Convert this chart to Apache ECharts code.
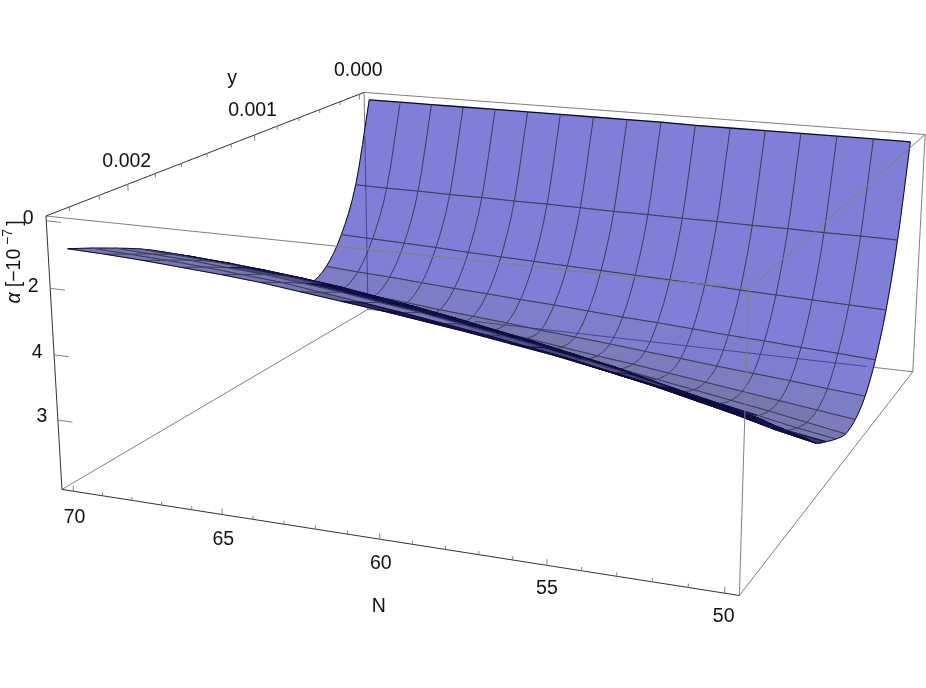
<!DOCTYPE html>
<html><head><meta charset="utf-8">
<style>html,body{margin:0;padding:0;background:#fff}#c{width:926px;height:688px}</style>
<script src="https://cdn.jsdelivr.net/npm/echarts@6/dist/echarts.min.js"></script>
</head><body><div id="c"></div>
<script>
// ---- data ----
const nValues = [70,68.75,67.5,66.25,65,63.75,62.5,61.25,60,58.75,57.5,56.25,55,53.75,52.5,51.25,50];
const yValues = [0,0.00015625,0.0003125,0.00046875,0.000625,0.00078125,0.0009375,0.00109375,0.00125,0.00140625,0.0015625,0.00171875,0.001875,0.00203125,0.0021875,0.00234375,0.0025];
// depth below the top of the box, in axis tick units; one row per y, one column per N
const alpha00 = [.02,.02,.02,.02,.02,.02,.02,.02,.02,.02,.03,.03,.03,.03,.03,.03,.03];
const alpha01 = [1.48,1.49,1.49,1.50,1.50,1.51,1.51,1.52,1.53,1.53,1.54,1.54,1.55,1.55,1.56,1.56,1.57];
const alpha02 = [2.27,2.29,2.31,2.33,2.36,2.38,2.40,2.42,2.44,2.46,2.48,2.50,2.53,2.55,2.57,2.59,2.61];
const alpha03 = [2.71,2.75,2.78,2.82,2.86,2.89,2.93,2.96,3.00,3.04,3.07,3.11,3.15,3.18,3.22,3.25,3.29];
const alpha04 = [2.86,2.91,2.97,3.02,3.08,3.13,3.18,3.24,3.29,3.34,3.40,3.45,3.51,3.56,3.61,3.67,3.72];
const alpha05 = [2.72,2.79,2.86,2.93,3.00,3.07,3.14,3.21,3.29,3.37,3.44,3.52,3.60,3.68,3.76,3.84,3.92];
const alpha06 = [2.50,2.57,2.65,2.72,2.80,2.89,2.98,3.07,3.16,3.25,3.34,3.44,3.54,3.64,3.74,3.85,3.96];
const alpha07 = [2.27,2.34,2.41,2.49,2.57,2.66,2.75,2.85,2.95,3.05,3.16,3.27,3.38,3.50,3.62,3.74,3.84];
const alpha08 = [2.03,2.09,2.16,2.23,2.31,2.40,2.50,2.60,2.70,2.82,2.93,3.05,3.17,3.30,3.43,3.58,3.68];
const alpha09 = [1.80,1.86,1.92,1.99,2.06,2.15,2.25,2.35,2.46,2.57,2.69,2.81,2.93,3.07,3.21,3.37,3.50];
const alpha10 = [1.57,1.62,1.67,1.73,1.80,1.88,1.97,2.07,2.17,2.28,2.40,2.52,2.64,2.78,2.91,3.07,3.22];
const alpha11 = [1.33,1.37,1.42,1.47,1.53,1.61,1.70,1.80,1.90,2.02,2.13,2.25,2.37,2.52,2.66,2.82,2.98];
const alpha12 = [1.08,1.11,1.15,1.20,1.26,1.33,1.42,1.51,1.61,1.72,1.83,1.95,2.07,2.22,2.36,2.52,2.68];
const alpha13 = [.89,.92,.96,1.00,1.06,1.13,1.21,1.30,1.39,1.50,1.60,1.72,1.83,1.97,2.11,2.26,2.41];
const alpha14 = [.73,.76,.79,.84,.88,.95,1.02,1.11,1.19,1.29,1.39,1.49,1.60,1.72,1.85,1.99,2.13];
const alpha15 = [.58,.61,.64,.68,.73,.78,.86,.94,1.02,1.11,1.20,1.30,1.40,1.52,1.64,1.77,1.90];
const alpha16 = [.44,.46,.49,.53,.57,.62,.69,.76,.83,.91,.99,1.08,1.17,1.28,1.38,1.50,1.62];
const alphaRows = [alpha00,alpha01,alpha02,alpha03,alpha04,alpha05,alpha06,alpha07,alpha08,alpha09,alpha10,alpha11,alpha12,alpha13,alpha14,alpha15,alpha16];

const nMajorTicks = [70,65,60,55,50];
const nMinorTicks = [69,68,67,66,64,63,62,61,59,58,57,56,54,53,52,51];
const yMajorTicks = [0,0.001,0.002];
const yMinorTicks = [0.0002,0.0004,0.0006,0.0008,0.0012,0.0014,0.0016,0.0018,0.0022,0.0024];
const yTickLabels = ['0.000','0.001','0.002'];
const alphaTicks = [0,1,2,3];
const alphaTickLabels = ['0','2','4','3'];

// ---- camera: the box ranges and where its eight corners fall ----
const boxN = [70.4,49.6], boxY = [-0.00005,0.00255], boxA = [-0.07,4.08];
const camera = [
 [0,0,0,364,92],[1,0,0,925,135],[0,1,0,46,216],[1,1,0,749,289],
 [0,0,1,368,310],[1,0,1,913,371],[0,1,1,62,489],[1,1,1,739,596]];
function fitCamera(pts){
  const A=[],b=[];
  pts.forEach(([u,v,w,X,Y])=>{
    A.push([u,v,w,1,0,0,0,0,-X*u,-X*v,-X*w]);b.push(X);
    A.push([0,0,0,0,u,v,w,1,-Y*u,-Y*v,-Y*w]);b.push(Y);
  });
  const n=11,M=[];
  for(let r=0;r<n;r++){M[r]=[];for(let c=0;c<n;c++){let s=0;A.forEach(a=>s+=a[r]*a[c]);M[r][c]=s;}
    let s=0;A.forEach((a,k)=>s+=a[r]*b[k]);M[r][n]=s;}
  for(let c=0;c<n;c++){let p=c;for(let r=c+1;r<n;r++)if(Math.abs(M[r][c])>Math.abs(M[p][c]))p=r;
    [M[c],M[p]]=[M[p],M[c]];
    for(let r=0;r<n;r++)if(r!==c){const f=M[r][c]/M[c][c];for(let k=c;k<=n;k++)M[r][k]-=f*M[c][k];}}
  return M.map((row,i)=>row[n]/row[i]);
}
const P=fitCamera(camera);
function project(N,y,a){
  const u=(boxN[0]-N)/(boxN[0]-boxN[1]),v=(y-boxY[0])/(boxY[1]-boxY[0]),w=(a-boxA[0])/(boxA[1]-boxA[0]);
  const d=P[8]*u+P[9]*v+P[10]*w+1;
  return [(P[0]*u+P[1]*v+P[2]*w+P[3])/d,(P[4]*u+P[5]*v+P[6]*w+P[7])/d];
}
// smooth reading between y rows (same idea as a smoothed line)
function alphaAt(j,s){
  const last=alphaRows.length-1,i=Math.min(Math.floor(s),last-1),t=s-i;
  const p1=alphaRows[i][j],p2=alphaRows[i+1][j];
  const p0=i>0?alphaRows[i-1][j]:2*p1-p2,p3=i+2<=last?alphaRows[i+2][j]:2*p2-p1;
  return 0.5*(2*p1+(p2-p0)*t+(2*p0-5*p1+4*p2-p3)*t*t+(3*p1-p0-3*p2+p3)*t*t*t);
}
function yAt(s){const i=Math.min(Math.floor(s),yValues.length-2);return yValues[i]+(yValues[i+1]-yValues[i])*(s-i);}
function surf(api,j,s){return api.coord(project(nValues[j],yAt(s),alphaAt(j,s)));}

const FONT='"Liberation Sans",Arial,sans-serif';
const GREY='#7f7f7f', AXIS='#303030', MESH='#3a3a58', UNDER=[22,22,92], UNDERLINE='#0c0c3c', EDGE='#0a0a1e';
const SUB=[0,.25,.5,.75,1];

function mix(a,b,t){t=Math.max(0,Math.min(1,t));return 'rgb('+a.map((x,k)=>Math.round(x+(b[k]-x)*t)).join(',')+')';}
function signedArea(p){let s=0;p.forEach((a,k)=>{const b=p[(k+1)%p.length];s+=a[0]*b[1]-b[0]*a[1];});return s/2;}
// grazing cells (very small on screen) turn dark navy, as the dense mesh does in the picture
function darkLimit(j){return j<3?60:j<5?100:135;}
function quadFill(j,i,area){
  const slope=(alphaRows[i+1][j]+alphaRows[i+1][j+1]-alphaRows[i][j]-alphaRows[i][j+1])/2;
  const k=Math.min(1,Math.max(0,slope)/.5);
  const lit=slope<0?[120,120,176]:[Math.round(124+3*k),Math.round(124+3*k),Math.round(186+30*k)];
  const lim=darkLimit(j);
  return mix(UNDER,lit,(area-lim)/40);
}
function pl(points,stroke,w){return {type:'polyline',shape:{points},style:{stroke,fill:null,lineWidth:w}};}
// one row of cells: fills first, then that row's mesh lines, so nearer rows hide farther ones
function renderRow(params,api){
  const i=api.value(0),ch=[],lines=[],last=yValues.length-1,lastJ=nValues.length-1;
  for(let j=0;j<lastJ;j++){
    const left=SUB.map(t=>surf(api,j,i+t)),right=SUB.map(t=>surf(api,j+1,i+t));
    const poly=left.concat(right.slice().reverse());
    const area=Math.abs(signedArea(poly));
    const c=quadFill(j,i,area);
    ch.push({type:'polygon',shape:{points:poly},style:{fill:c,stroke:c,lineWidth:.7}});
    const m=area<darkLimit(j)+20?UNDERLINE:MESH;
    lines.push(pl(left,j===0?EDGE:m,1));
    if(j===lastJ-1)lines.push(pl(right,EDGE,1));
    lines.push(pl([left[0],right[0]],i===0?EDGE:m,i===0?1.3:1));
    lines.push(pl([left[4],right[4]],i+1===last?EDGE:m,1));
  }
  return {type:'group',children:ch.concat(lines)};
}
function line(a,b,stroke,w){return pl([a,b],stroke,w);}
function corner(api,i,j,k){return api.coord(project(boxN[i],boxY[j],boxA[k]));}
function label(x,y,text,size,extra){return Object.assign({type:'text',x,y,style:{text,fontFamily:FONT,fontSize:size||19.5,fill:'#111',align:'center',verticalAlign:'middle'}},extra||{});}

function renderBoxBack(p,api){
  return {type:'group',children:[
    line(corner(api,0,0,0),corner(api,1,0,0),GREY,1),
    line(corner(api,0,0,0),corner(api,0,0,1),GREY,1),
    line(corner(api,1,0,0),corner(api,1,0,1),GREY,1),
    line(corner(api,0,0,1),corner(api,1,0,1),GREY,1),
    line(corner(api,0,0,1),corner(api,0,1,1),GREY,1),
    line(corner(api,1,0,1),corner(api,1,1,1),GREY,1)
  ]};
}
function renderTint(p,api){
  const T='rgba(48,48,130,.75)';
  return {type:'group',children:[
    line(api.coord(project(boxN[0],boxY[0],0.75)),corner(api,0,0,1),T,1),
    line(api.coord(project(66,boxY[0],boxA[1])),api.coord(project(51.2,boxY[0],boxA[1])),T,1)
  ]};
}
function renderFront(p,api){
  const ch=[
    line(corner(api,0,1,0),corner(api,1,1,0),GREY,1),
    line(corner(api,1,1,0),corner(api,1,0,0),GREY,1),
    line(corner(api,1,1,0),corner(api,1,1,1),GREY,1),
    line(corner(api,0,0,0),corner(api,0,1,0),AXIS,1),
    line(corner(api,0,1,0),corner(api,0,1,1),AXIS,1),
    line(corner(api,0,1,1),corner(api,1,1,1),AXIS,1)
  ];
  const TICK='#808080';
  nMajorTicks.forEach(n=>ch.push(line(api.coord(project(n,boxY[1],boxA[1])),api.coord(project(n,boxY[1],boxA[1]-.09)),TICK,1)));
  nMinorTicks.forEach(n=>ch.push(line(api.coord(project(n,boxY[1],boxA[1])),api.coord(project(n,boxY[1],boxA[1]-.055)),TICK,1)));
  yMajorTicks.forEach(y=>ch.push(line(api.coord(project(boxN[0],y,boxA[0])),api.coord(project(boxN[0],y,boxA[0]+.1)),TICK,1)));
  yMinorTicks.forEach(y=>ch.push(line(api.coord(project(boxN[0],y,boxA[0])),api.coord(project(boxN[0],y,boxA[0]+.06)),TICK,1)));
  alphaTicks.forEach(a=>ch.push(line(api.coord(project(boxN[0],boxY[1],a)),api.coord(project(boxN[0]-.5,boxY[1],a)),TICK,1)));
  const nOff=[[1,26],[1,25],[1,24],[0,23],[-1,23]];
  nMajorTicks.forEach((n,k)=>{const c=api.coord(project(n,boxY[1],boxA[1]));ch.push(label(c[0]+nOff[k][0],c[1]+nOff[k][1],String(n)));});
  const yOff=[[-1,-24],[-2,-24],[-1,-23]];
  yMajorTicks.forEach((y,k)=>{const c=api.coord(project(boxN[0],y,boxA[0]));ch.push(label(c[0]+yOff[k][0],c[1]+yOff[k][1],yTickLabels[k]));});
  const aOff=[[-18,-2],[-17,-2],[-17,-2],[-16,-3]];
  alphaTicks.forEach((a,k)=>{const c=api.coord(project(boxN[0],boxY[1],a));ch.push(label(c[0]+aOff[k][0],c[1]+aOff[k][1],alphaTickLabels[k]));});
  ch.push(label(378.7,607,'N'));
  ch.push(label(232,79,'y'));
  const rot={rotation:Math.PI/2};
  const al=label(15,298,'α',19.5,rot);al.style.fontStyle='italic';ch.push(al);
  ch.push(label(15,268,'[−10',19.5,rot));
  ch.push(label(8,237,'−7',14,rot));
  ch.push(label(15,223,']',20,rot));
  return {type:'group',children:ch};
}
const single=[[0]];
function customSeries(fn,data,z){return {type:'custom',coordinateSystem:'cartesian2d',renderItem:fn,data,z,silent:true,animation:false,clip:false,encode:{x:0}};}
const rowIndex=yValues.slice(0,-1).map((_,i)=>[i]);

const chart=echarts.init(document.getElementById('c'),null,{renderer:'canvas'});
chart.setOption({
  animation:false,
  backgroundColor:'#fff',
  grid:{left:0,right:0,top:0,bottom:0},
  xAxis:{type:'value',min:0,max:926,show:false},
  yAxis:{type:'value',min:0,max:688,inverse:true,show:false},
  series:[
    customSeries(renderBoxBack,single,1),
    customSeries(renderRow,rowIndex.filter(d=>d[0]<6),2),
    customSeries(renderTint,single,3),
    customSeries(renderRow,rowIndex.filter(d=>d[0]>=6),4),
    customSeries(renderFront,single,6)
  ]
});
</script></body></html>
